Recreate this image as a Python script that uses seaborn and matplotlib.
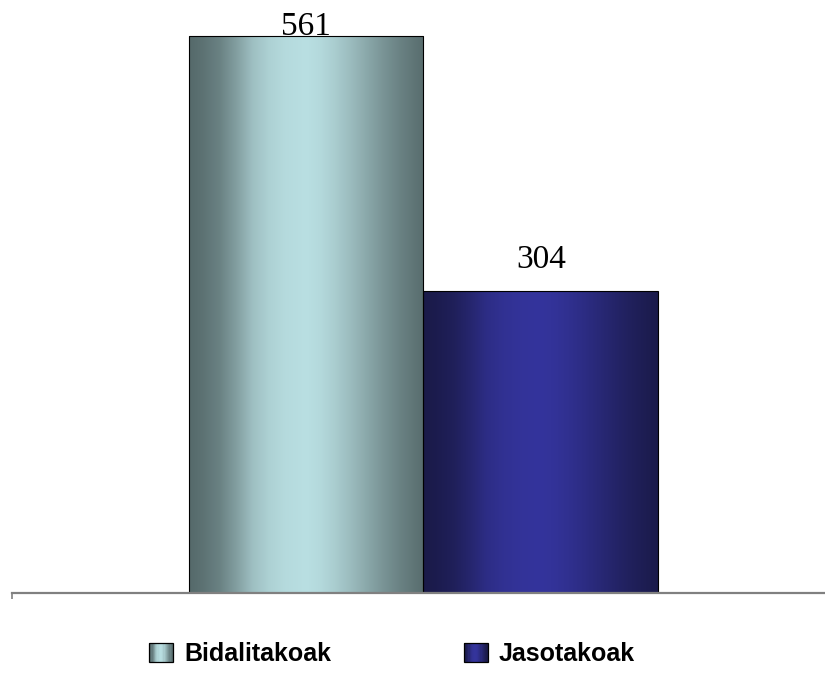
import seaborn as sns
import pandas as pd
import numpy as np
import matplotlib
matplotlib.use('Agg')
import matplotlib.pyplot as plt
import matplotlib.patches as mpatches
from matplotlib.colors import to_rgb
from matplotlib.legend_handler import HandlerBase

sns.set_style('white')

# data
categories = ['Bidalitakoak', 'Jasotakoak']
values = [561, 304]
value_labels = ['561', '304']

# dark edge / light centre colours of the shaded bars
dark_colors = ['#55696a', '#1a1a48']
light_colors = ['#b9dfe2', '#34349c']

# horizontal shading profile (0 = dark, 1 = light)
prof_x = [0.0, 0.06, 0.13, 0.2, 0.27, 0.34, 0.41, 0.5, 0.56, 0.62, 0.69, 0.76, 0.83, 0.9, 1.0]
prof_t = [0.0, 0.08, 0.21, 0.45, 0.73, 0.88, 0.96, 1.0, 0.95, 0.85, 0.7, 0.53, 0.36, 0.21, 0.03]


def shade_colors(dark, light, n):
    xs = np.linspace(0, 1, n)
    t = np.interp(xs, prof_x, prof_t)[:, None]
    d = np.array(to_rgb(dark))
    l = np.array(to_rgb(light))
    return d + (l - d) * t


class GradientBox(HandlerBase):
    def __init__(self, dark, light):
        super().__init__()
        self.dark = dark
        self.light = light

    def create_artists(self, legend, orig_handle, xdescent, ydescent,
                       width, height, fontsize, trans):
        n = 20
        cols = shade_colors(self.dark, self.light, n)
        arts = []
        for i in range(n):
            arts.append(mpatches.Rectangle((-xdescent + i * width / n, -ydescent),
                                           width / n + 0.3, height, facecolor=cols[i],
                                           edgecolor='none', transform=trans))
        arts.append(mpatches.Rectangle((-xdescent, -ydescent), width, height,
                                       facecolor='none', edgecolor='black',
                                       linewidth=0.9, transform=trans))
        return arts


df = pd.DataFrame({'kind': categories, 'count': values})

fig = plt.figure(figsize=(8.25, 6.74), dpi=100)
ax = fig.add_axes([12 / 825, 81 / 674, 813 / 825, 593 / 674])

sns.barplot(data=df, x='kind', y='count', hue='kind', palette=light_colors,
            width=1.0, saturation=1, legend=False, ax=ax,
            edgecolor='black', linewidth=0.8)

# shaded fill clipped to each bar
for patch, dk, lt in zip(ax.patches, dark_colors, light_colors):
    x0, y0 = patch.get_x(), patch.get_y()
    w, h = patch.get_width(), patch.get_height()
    img = shade_colors(dk, lt, 256)[None, :, :]
    im = ax.imshow(img, extent=[x0, x0 + w, y0, y0 + h], aspect='auto',
                   interpolation='bilinear', zorder=patch.get_zorder() - 0.1)
    im.set_clip_path(patch)
    patch.set_facecolor('none')

xmin, xmax = -1.253, 2.211
ax.set_xlim(xmin, xmax)
ax.set_ylim(0, 597)

# value labels above bars (the tall one is squeezed under the top edge)
for i, (v, lab) in enumerate(zip(values, value_labels)):
    ax.text(i, min(v + 23, 562), lab, ha='center', va='baseline',
            fontsize=24, family='Liberation Serif', color='black')

sns.despine(ax=ax, left=True, top=True, right=True)
ax.spines['bottom'].set_color('#808080')
ax.spines['bottom'].set_linewidth(1.6)
ax.set_yticks([])
ax.set_xticks([xmin])
ax.set_xticklabels([''])
ax.tick_params(axis='x', direction='out', length=4.5, width=1.2, color='#808080',
               bottom=True)
ax.set_xlabel('')
ax.set_ylabel('')

proxies = [mpatches.Patch(label=c) for c in categories]
handler_map = {p: GradientBox(dk, lt) for p, dk, lt in zip(proxies, dark_colors, light_colors)}
fig.legend(handles=proxies, labels=categories, handler_map=handler_map,
           loc='center left', bbox_to_anchor=(149 / 825, 1 - 654 / 674),
           ncol=2, frameon=False, borderpad=0, borderaxespad=0,
           handlelength=0.96, handleheight=0.76, handletextpad=0.44,
           columnspacing=5.3, labelcolor='black',
           prop={'family': 'Liberation Sans', 'weight': 'bold', 'size': 18})

fig.savefig('out.png', dpi=100)
